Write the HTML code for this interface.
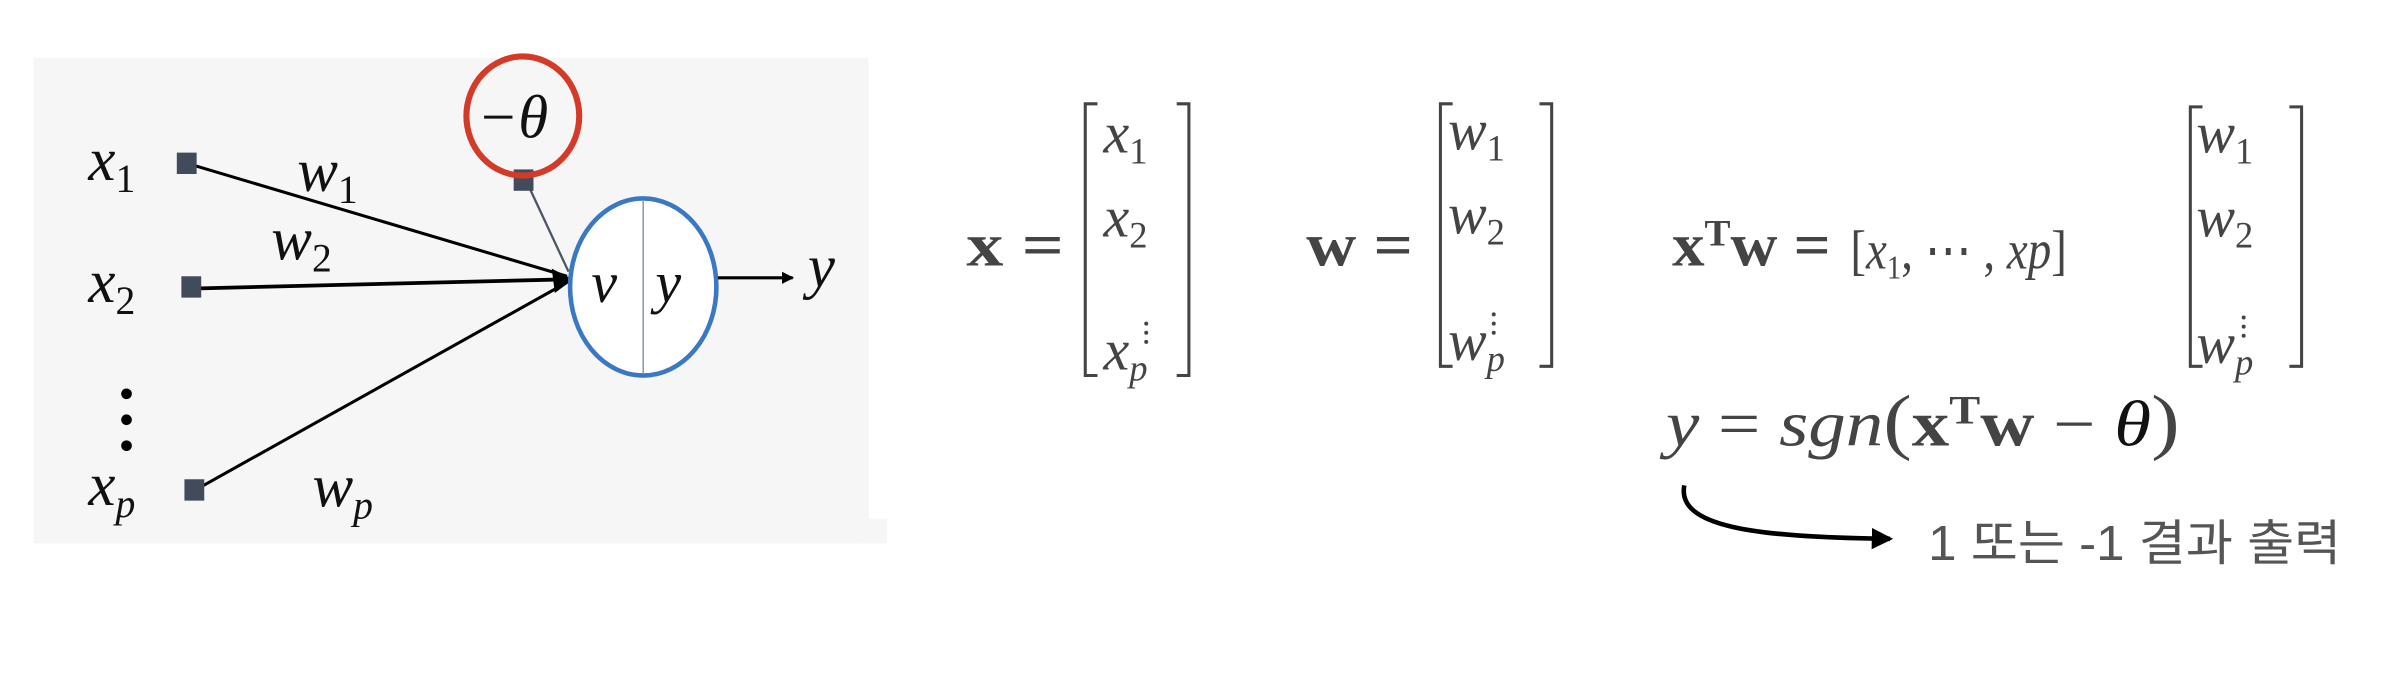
<!DOCTYPE html>
<html><head><meta charset="utf-8"><style>
html,body{margin:0;padding:0;background:#fff;}
svg{display:block;}
.m{font-family:"Liberation Serif",serif;font-style:italic;fill:#111;}
.g{font-family:"Liberation Serif",serif;fill:#444;}
.gi{font-family:"Liberation Serif",serif;font-style:italic;fill:#444;}
.b{font-family:"Liberation Serif",serif;font-weight:bold;fill:#444;}
</style></head><body>
<svg width="2390" height="696" viewBox="0 0 1568 456" preserveAspectRatio="none">
<defs>
<marker id="ah" markerWidth="8" markerHeight="8" refX="7" refY="4" orient="auto" markerUnits="userSpaceOnUse"><path d="M0,0 L8,4 L0,8 z" fill="#000"/></marker>
<marker id="ah2" markerWidth="14" markerHeight="14" refX="12" refY="7" orient="auto" markerUnits="userSpaceOnUse"><path d="M0,0 L14,7 L0,14 z" fill="#000"/></marker>
</defs>
<g>
<rect x="22" y="38" width="548" height="318" fill="#f6f6f6"/>
<rect x="560" y="340" width="22" height="16" fill="#f6f6f6"/>
<line x1="126" y1="108" x2="372" y2="181" stroke="#000" stroke-width="2"/>
<line x1="128" y1="189" x2="372" y2="183" stroke="#000" stroke-width="2.5"/>
<line x1="130" y1="320" x2="372" y2="185" stroke="#000" stroke-width="2"/>
<line x1="345" y1="118" x2="373" y2="178" stroke="#4a5568" stroke-width="1.5"/>
<path d="M362,176 L376,183 L364,192 z" fill="#000"/>
<rect x="116" y="100" width="13" height="14" fill="#414b5c"/>
<rect x="119" y="181" width="13" height="14" fill="#414b5c"/>
<rect x="121" y="314" width="13" height="14" fill="#414b5c"/>
<rect x="337" y="111" width="13" height="14" fill="#414b5c"/>
<ellipse cx="422" cy="188" rx="48" ry="58" fill="#fff" stroke="#3b78c4" stroke-width="3"/>
<line x1="422" y1="131" x2="422" y2="245" stroke="#8a9bb0" stroke-width="1"/>
<text class="m" x="388" y="198" font-size="38">v</text>
<text class="m" x="430" y="198" font-size="38">y</text>
<line x1="471" y1="182" x2="520" y2="182" stroke="#000" stroke-width="2" marker-end="url(#ah)"/>
<text class="m" x="530" y="188" font-size="40">y</text>
<ellipse cx="343" cy="76" rx="37" ry="39" fill="none" stroke="#d43a28" stroke-width="4"/>
<text class="m" x="313" y="90" font-size="40">−θ</text>
<text class="m" x="58" y="118" font-size="40">x<tspan font-style="normal" font-size="26" baseline-shift="-30%">1</tspan></text>
<text class="m" x="58" y="198" font-size="40">x<tspan font-style="normal" font-size="26" baseline-shift="-30%">2</tspan></text>
<text class="m" x="58" y="331" font-size="40">x<tspan font-size="26" baseline-shift="-30%">p</tspan></text>
<circle cx="83" cy="258" r="3.5" fill="#000"/><circle cx="83" cy="275" r="3.5" fill="#000"/><circle cx="83" cy="292" r="3.5" fill="#000"/>
<text class="m" x="195" y="125" font-size="40">w<tspan font-style="normal" font-size="26" baseline-shift="-30%">1</tspan></text>
<text class="m" x="178" y="170" font-size="40">w<tspan font-style="normal" font-size="26" baseline-shift="-30%">2</tspan></text>
<text class="m" x="205" y="332" font-size="40">w<tspan font-size="26" baseline-shift="-30%">p</tspan></text>
</g>
<g>
<text class="b" x="634" y="174" font-size="40" textLength="64" lengthAdjust="spacingAndGlyphs">x =</text>
<path d="M720,68 L712,68 L712,246 L720,246 M772,68 L780,68 L780,246 L772,246" fill="none" stroke="#444" stroke-width="2"/>
<text class="gi" x="724" y="100" font-size="38">x<tspan font-style="normal" font-size="24" baseline-shift="-30%">1</tspan></text>
<text class="gi" x="724" y="155" font-size="38">x<tspan font-style="normal" font-size="24" baseline-shift="-30%">2</tspan></text>
<circle cx="752" cy="212" r="1.3" fill="#444"/><circle cx="752" cy="218" r="1.3" fill="#444"/><circle cx="752" cy="224" r="1.3" fill="#444"/>
<text class="gi" x="724" y="242" font-size="38">x<tspan font-size="24" baseline-shift="-30%">p</tspan></text>
</g>
<g>
<text class="b" x="857" y="174" font-size="40" textLength="70" lengthAdjust="spacingAndGlyphs">w =</text>
<path d="M953,68 L945,68 L945,240 L953,240 M1010,68 L1018,68 L1018,240 L1010,240" fill="none" stroke="#444" stroke-width="2"/>
<text class="gi" x="950" y="98" font-size="38">w<tspan font-style="normal" font-size="24" baseline-shift="-30%">1</tspan></text>
<text class="gi" x="950" y="153" font-size="38">w<tspan font-style="normal" font-size="24" baseline-shift="-30%">2</tspan></text>
<circle cx="980" cy="206" r="1.3" fill="#444"/><circle cx="980" cy="212" r="1.3" fill="#444"/><circle cx="980" cy="218" r="1.3" fill="#444"/>
<text class="gi" x="950" y="236" font-size="38">w<tspan font-size="24" baseline-shift="-30%">p</tspan></text>
</g>
<g>
<text class="b" x="1097" y="174" font-size="40" textLength="104" lengthAdjust="spacingAndGlyphs">x<tspan font-size="24" baseline-shift="super">T</tspan>w =</text>
<text class="gi" x="1214" y="176" font-size="36" textLength="142" lengthAdjust="spacingAndGlyphs"><tspan font-style="normal">[</tspan>x<tspan font-style="normal" font-size="22" baseline-shift="-30%">1</tspan><tspan font-style="normal">, ⋯ , </tspan>xp<tspan font-style="normal">]</tspan></text>
<path d="M1445,70 L1437,70 L1437,240 L1445,240 M1502,70 L1510,70 L1510,240 L1502,240" fill="none" stroke="#444" stroke-width="2"/>
<text class="gi" x="1441" y="100" font-size="38">w<tspan font-style="normal" font-size="24" baseline-shift="-30%">1</tspan></text>
<text class="gi" x="1441" y="155" font-size="38">w<tspan font-style="normal" font-size="24" baseline-shift="-30%">2</tspan></text>
<circle cx="1472" cy="208" r="1.3" fill="#444"/><circle cx="1472" cy="214" r="1.3" fill="#444"/><circle cx="1472" cy="220" r="1.3" fill="#444"/>
<text class="gi" x="1441" y="238" font-size="38">w<tspan font-size="24" baseline-shift="-30%">p</tspan></text>
</g>
<g>
<text class="gi" x="1093" y="292" font-size="42" textLength="337" lengthAdjust="spacingAndGlyphs">y <tspan font-style="normal">=</tspan> sgn<tspan font-style="normal" font-size="48">(</tspan><tspan font-style="normal" font-weight="bold">x</tspan><tspan font-style="normal" font-weight="bold" font-size="26" baseline-shift="super">T</tspan><tspan font-style="normal" font-weight="bold">w</tspan><tspan font-style="normal">  − </tspan><tspan fill="#111">θ</tspan><tspan font-style="normal" font-size="48">)</tspan></text>
</g>
<path d="M1105,318 C1100,345 1150,352 1240,353" fill="none" stroke="#000" stroke-width="3" marker-end="url(#ah2)"/>
<text x="1265" y="367" font-size="32" fill="#555" textLength="271" lengthAdjust="spacingAndGlyphs" font-family="'Liberation Sans','Noto Sans CJK KR',sans-serif">1 또는 -1 결과 출력</text>
</svg>
</body></html>
